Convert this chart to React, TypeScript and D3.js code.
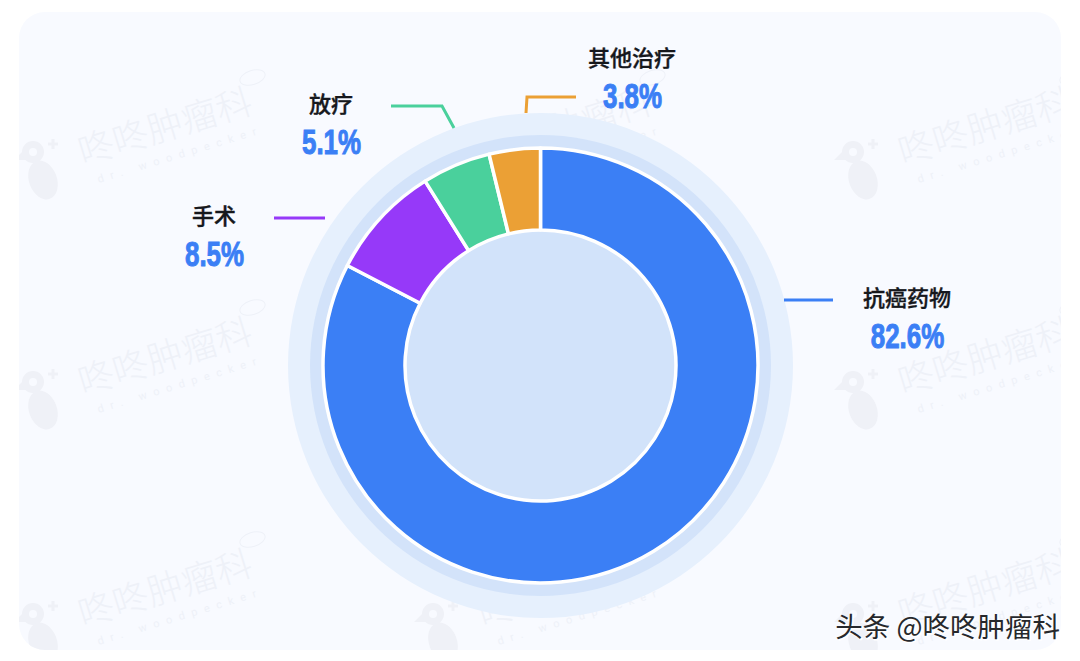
import React, { FC } from 'react';
import * as d3 from 'd3';

const categories = ['抗癌药物', '手术', '放疗', '其他治疗'];
const shares = [82.6, 8.5, 5.1, 3.8];
const colors = ['#3b7ff5', '#9639f9', '#4ad09c', '#eba035'];

// label anchors and leader polylines, one per category
const labelX = [907, 214, 331, 632];
const labelY = [298, 216, 104, 58];
const leaders = [
  [[784, 300], [833, 300]],
  [[274, 218], [325, 218]],
  [[391, 106], [442, 106], [454, 128]],
  [[576, 97], [527, 97], [526, 113]],
];

const watermarkRows = [170, 400, 632];
const watermarkCols = [40, 440, 860];
const watermarkName = '咚咚肿瘤科';
const watermarkSub = 'dr. woodpecker';
const credit = '头条 @咚咚肿瘤科';

const width = 1080;
const height = 661;
const cjk = '"Noto Sans CJK SC", "Noto Sans", sans-serif';

const chart = () => {
  const cx = 540.5;
  const cy = 365.5;
  const svg = d3
    .create('svg')
    .attr('width', width)
    .attr('height', height)
    .attr('viewBox', `0 0 ${width} ${height}`)
    .style('position', 'absolute')
    .style('left', 0)
    .style('top', 0)
    .style('background', '#fff');

  svg
    .append('clipPath')
    .attr('id', 'card')
    .append('rect')
    .attr('x', 19)
    .attr('y', 12)
    .attr('width', 1042)
    .attr('height', 638)
    .attr('rx', 26);
  svg
    .append('rect')
    .attr('x', 19)
    .attr('y', 12)
    .attr('width', 1042)
    .attr('height', 638)
    .attr('rx', 26)
    .attr('fill', '#f8faff');

  // watermark tiles
  const marks = svg.append('g').attr('clip-path', 'url(#card)');
  watermarkRows.forEach((my) => {
    watermarkCols.forEach((mx) => {
      const g = marks.append('g').attr('transform', `translate(${mx},${my})`);
      g.append('path').attr('d', 'M-26,-10 L-10,-26 L-6,-10 Z').attr('fill', '#eff1f7');
      g.append('circle').attr('cx', -7).attr('cy', -18).attr('r', 11).attr('fill', '#eff1f7');
      g.append('circle').attr('cx', -7).attr('cy', -18).attr('r', 4).attr('fill', '#f8faff');
      g.append('path').attr('d', 'M8,-26 h10 M13,-31 v10').attr('stroke', '#eff1f7').attr('stroke-width', 3);
      g.append('ellipse')
        .attr('cx', 3)
        .attr('cy', 10)
        .attr('rx', 14)
        .attr('ry', 20)
        .attr('transform', 'rotate(-20 3 10)')
        .attr('fill', '#eff1f7');
      const t = g.append('g').attr('transform', 'rotate(-17 40 0)');
      t.append('text')
        .attr('x', 44)
        .attr('y', -4)
        .attr('font-family', cjk)
        .attr('font-size', 36)
        .attr('font-weight', 300)
        .attr('fill', '#eef1f8')
        .text(watermarkName);
      t.append('text')
        .attr('x', 54)
        .attr('y', 18)
        .attr('font-family', 'Roboto, sans-serif')
        .attr('font-size', 11)
        .attr('letter-spacing', 7)
        .attr('fill', '#eef1f8')
        .text(watermarkSub);
      t.append('ellipse')
        .attr('cx', 232)
        .attr('cy', -38)
        .attr('rx', 13)
        .attr('ry', 7)
        .attr('fill', 'none')
        .attr('stroke', '#eef1f8');
    });
  });

  const root = svg.append('g').attr('transform', `translate(${cx},${cy})`);
  root.append('circle').attr('r', 252.5).attr('fill', '#e6f0fd');
  root.append('circle').attr('r', 230.5).attr('fill', '#d3e3fa');
  root.append('circle').attr('r', 136).attr('fill', '#d2e3fa');

  const pie = d3
    .pie<number>()
    .sort(null)
    .value((d) => d);
  const arc = d3.arc<d3.PieArcDatum<number>>().innerRadius(135.5).outerRadius(217.5);
  root
    .selectAll('path')
    .data(pie(shares))
    .join('path')
    .attr('d', arc)
    .attr('fill', (d, i) => colors[i])
    .attr('stroke', '#fff')
    .attr('stroke-width', 3.5)
    .attr('stroke-linejoin', 'round');

  const line = d3.line();
  svg
    .append('g')
    .selectAll('path')
    .data(leaders)
    .join('path')
    .attr('d', (d) => line(d as [number, number][]))
    .attr('fill', 'none')
    .attr('stroke', (d, i) => colors[i])
    .attr('stroke-width', 3);

  const labels = svg.append('g').attr('text-anchor', 'middle');
  categories.forEach((name, i) => {
    labels
      .append('text')
      .attr('x', labelX[i])
      .attr('y', labelY[i])
      .attr('dy', '0.36em')
      .attr('font-family', cjk)
      .attr('font-size', 22)
      .attr('font-weight', 500)
      .attr('fill', '#16181c')
      .attr('stroke', '#16181c')
      .attr('stroke-width', 0.35)
      .text(name);
    // condensed heavy figures: squeeze a bold face horizontally
    labels
      .append('text')
      .attr('transform', `translate(${labelX[i] + 0.5},${labelY[i] + 50}) scale(0.72,1)`)
      .attr('font-family', '"Liberation Sans", sans-serif')
      .attr('font-size', 36)
      .attr('font-weight', 700)
      .attr('fill', '#3b7ff5')
      .attr('stroke', '#3b7ff5')
      .attr('stroke-width', 1)
      .text(`${shares[i]}%`);
  });

  // embossed platform credit
  const creditLayer = svg
    .append('g')
    .attr('font-family', cjk)
    .attr('font-size', 27.5)
    .attr('text-anchor', 'end');
  creditLayer
    .append('text')
    .attr('x', 1061)
    .attr('y', 638)
    .attr('fill', '#fff')
    .attr('stroke', '#fff')
    .attr('stroke-width', 1)
    .text(credit);
  creditLayer
    .append('text')
    .attr('x', 1060)
    .attr('y', 637)
    .attr('fill', '#26282c')
    .text(credit);

  return svg.node();
};

const App: FC = () => (
  <div
    ref={(elem) => {
      if (!elem) {
        return;
      }
      const svg = chart();
      if (!svg) {
        return;
      }
      elem.innerHTML = '';
      elem.appendChild(svg);
    }}
  />
);

export default App;
